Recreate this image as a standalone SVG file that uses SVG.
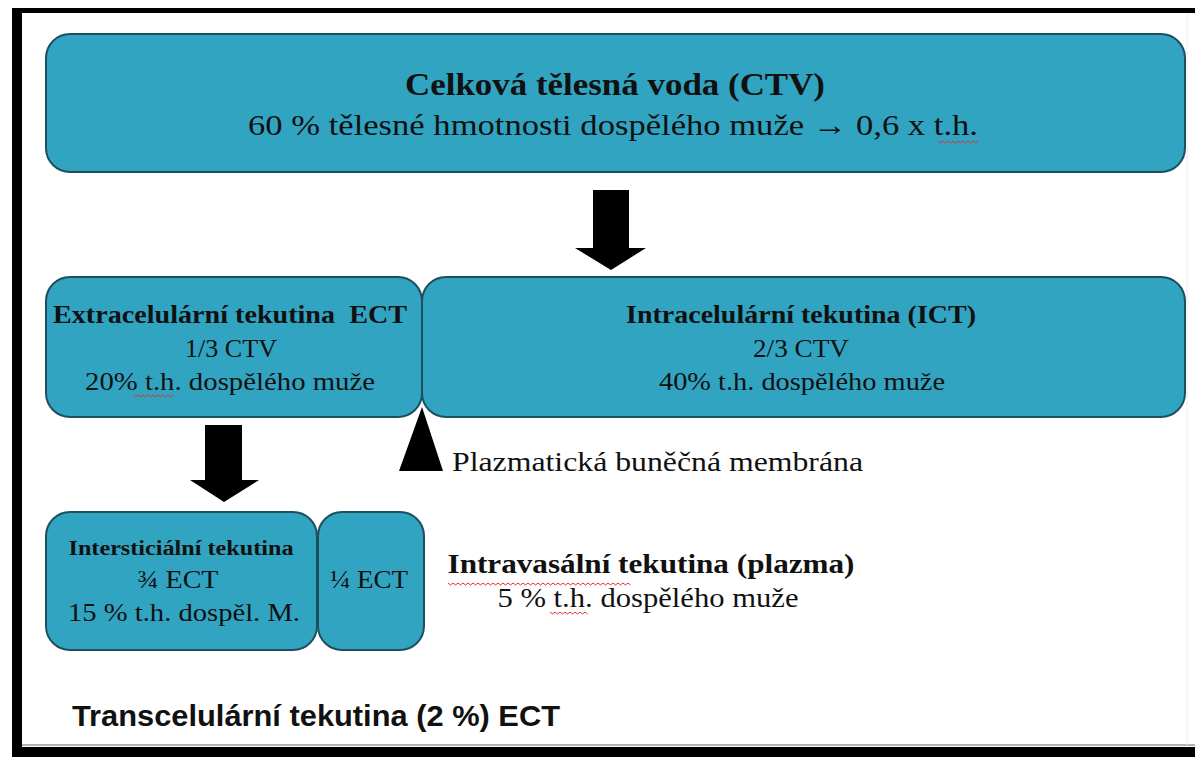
<svg xmlns="http://www.w3.org/2000/svg" width="1195" height="757" viewBox="0 0 1195 757">
<defs>
<style>
.box{fill:#31a4c1;stroke:#1e4f5e;stroke-width:2}
.serif{font-family:"Liberation Serif","Times New Roman",serif;fill:#111;text-anchor:middle}
.b{font-weight:bold}
.sans{font-family:"Liberation Sans",Arial,sans-serif;fill:#111}
.arrow{fill:#000}
.wavy{fill:none;stroke:#e03030;stroke-width:1}
</style>
</defs>
<rect x="0" y="0" width="1195" height="757" fill="#fff"/>
<g id="frame">
<rect x="12" y="8" width="1183" height="5" fill="#000"/>
<rect x="12" y="8" width="10" height="749" fill="#000"/>
<rect x="12" y="747" width="1183" height="10" fill="#000"/>
<line x1="22" y1="745" x2="1195" y2="745" stroke="#999" stroke-width="1.5"/>
<line x1="1187" y1="13" x2="1187" y2="745" stroke="#eee" stroke-width="1"/>
</g>
<g id="ctv">
<rect class="box" x="46" y="34" width="1139" height="138" rx="24"/>
<text class="serif b" x="615" y="95" font-size="32" textLength="420" lengthAdjust="spacingAndGlyphs">Celková tělesná voda (CTV)</text>
<text class="serif" x="613" y="135" font-size="30" textLength="730" lengthAdjust="spacingAndGlyphs">60 % tělesné hmotnosti dospělého muže → 0,6 x t.h.</text>
<path class="wavy" d="M938 141 l2.5 2 l2.5 -2 l2.5 2 l2.5 -2 l2.5 2 l2.5 -2 l2.5 2 l2.5 -2 l2.5 2 l2.5 -2 l2.5 2 l2.5 -2 l2.5 2 l2.5 -2 l2.5 2 l2.5 -2"/>
</g>
<g id="ect">
<rect class="box" x="46" y="277" width="376" height="140" rx="24"/>
<text class="serif b" x="230" y="323" font-size="25" textLength="354" lengthAdjust="spacingAndGlyphs" xml:space="preserve">Extracelulární tekutina  ECT</text>
<text class="serif" x="231" y="357" font-size="25" textLength="92" lengthAdjust="spacingAndGlyphs">1/3 CTV</text>
<text class="serif" x="230" y="390" font-size="25" textLength="290" lengthAdjust="spacingAndGlyphs">20% t.h. dospělého muže</text>
<path class="wavy" d="M133 395 l2.5 2 l2.5 -2 l2.5 2 l2.5 -2 l2.5 2 l2.5 -2 l2.5 2 l2.5 -2 l2.5 2 l2.5 -2 l2.5 2 l2.5 -2 l2.5 2 l2.5 -2 l2.5 2 l2.5 -2"/>
</g>
<g id="ict">
<rect class="box" x="422" y="277" width="763" height="140" rx="24"/>
<text class="serif b" x="801" y="323" font-size="25" textLength="350" lengthAdjust="spacingAndGlyphs">Intracelulární tekutina (ICT)</text>
<text class="serif" x="801" y="357" font-size="25" textLength="96" lengthAdjust="spacingAndGlyphs">2/3 CTV</text>
<text class="serif" x="802" y="390" font-size="25" textLength="286" lengthAdjust="spacingAndGlyphs">40% t.h. dospělého muže</text>
</g>
<g id="intersticialni">
<rect class="box" x="46" y="512" width="271" height="138" rx="24"/>
<text class="serif b" x="181" y="555" font-size="20" textLength="225" lengthAdjust="spacingAndGlyphs">Intersticiální tekutina</text>
<text class="serif" x="178" y="588" font-size="25" textLength="81" lengthAdjust="spacingAndGlyphs">¾ ECT</text>
<text class="serif" x="184" y="621" font-size="25" textLength="232" lengthAdjust="spacingAndGlyphs">15 % t.h. dospěl. M.</text>
</g>
<g id="plazma-box">
<rect class="box" x="318" y="512" width="106" height="138" rx="24"/>
<text class="serif" x="369" y="588" font-size="25" textLength="78" lengthAdjust="spacingAndGlyphs">¼ ECT</text>
</g>
<g id="membrana">
<text class="serif" x="452" y="471" font-size="27" style="text-anchor:start" textLength="411" lengthAdjust="spacingAndGlyphs">Plazmatická buněčná membrána</text>
</g>
<g id="intravasalni">
<text class="serif b" x="651" y="573" font-size="27" textLength="407" lengthAdjust="spacingAndGlyphs">Intravasální tekutina (plazma)</text>
<path class="wavy" d="M448 583 l2.5 2 l2.5 -2 l2.5 2 l2.5 -2 l2.5 2 l2.5 -2 l2.5 2 l2.5 -2 l2.5 2 l2.5 -2 l2.5 2 l2.5 -2 l2.5 2 l2.5 -2 l2.5 2 l2.5 -2 l2.5 2 l2.5 -2 l2.5 2 l2.5 -2 l2.5 2 l2.5 -2 l2.5 2 l2.5 -2 l2.5 2 l2.5 -2 l2.5 2 l2.5 -2 l2.5 2 l2.5 -2 l2.5 2 l2.5 -2 l2.5 2 l2.5 -2 l2.5 2 l2.5 -2 l2.5 2 l2.5 -2 l2.5 2 l2.5 -2 l2.5 2 l2.5 -2 l2.5 2 l2.5 -2 l2.5 2 l2.5 -2 l2.5 2 l2.5 -2 l2.5 2 l2.5 -2 l2.5 2 l2.5 -2 l2.5 2 l2.5 -2 l2.5 2 l2.5 -2 l2.5 2 l2.5 -2 l2.5 2 l2.5 -2 l2.5 2 l2.5 -2 l2.5 2 l2.5 -2 l2.5 2 l2.5 -2 l2.5 2 l2.5 -2 l2.5 2 l2.5 -2 l2.5 2 l2.5 -2 l2.5 2"/>
<text class="serif" x="648" y="607" font-size="27" textLength="301" lengthAdjust="spacingAndGlyphs">5 % t.h. dospělého muže</text>
<path class="wavy" d="M550 612 l2.5 2 l2.5 -2 l2.5 2 l2.5 -2 l2.5 2 l2.5 -2 l2.5 2 l2.5 -2 l2.5 2 l2.5 -2 l2.5 2 l2.5 -2 l2.5 2 l2.5 -2 l2.5 2"/>
</g>
<g id="transcelularni">
<text class="sans b" x="72" y="726" font-size="30" textLength="488" lengthAdjust="spacingAndGlyphs">Transcelulární tekutina (2 %) ECT</text>
</g>
<g id="connectors">
<polygon class="arrow" points="593,190 629,190 629,248 646,248 611,270 575,248 593,248"/>
<polygon class="arrow" points="205,425 242,425 242,480 259,480 224,502 190,480 205,480"/>
<polygon class="arrow" points="422,407 443,471 399,471"/>
</g>
</svg>
